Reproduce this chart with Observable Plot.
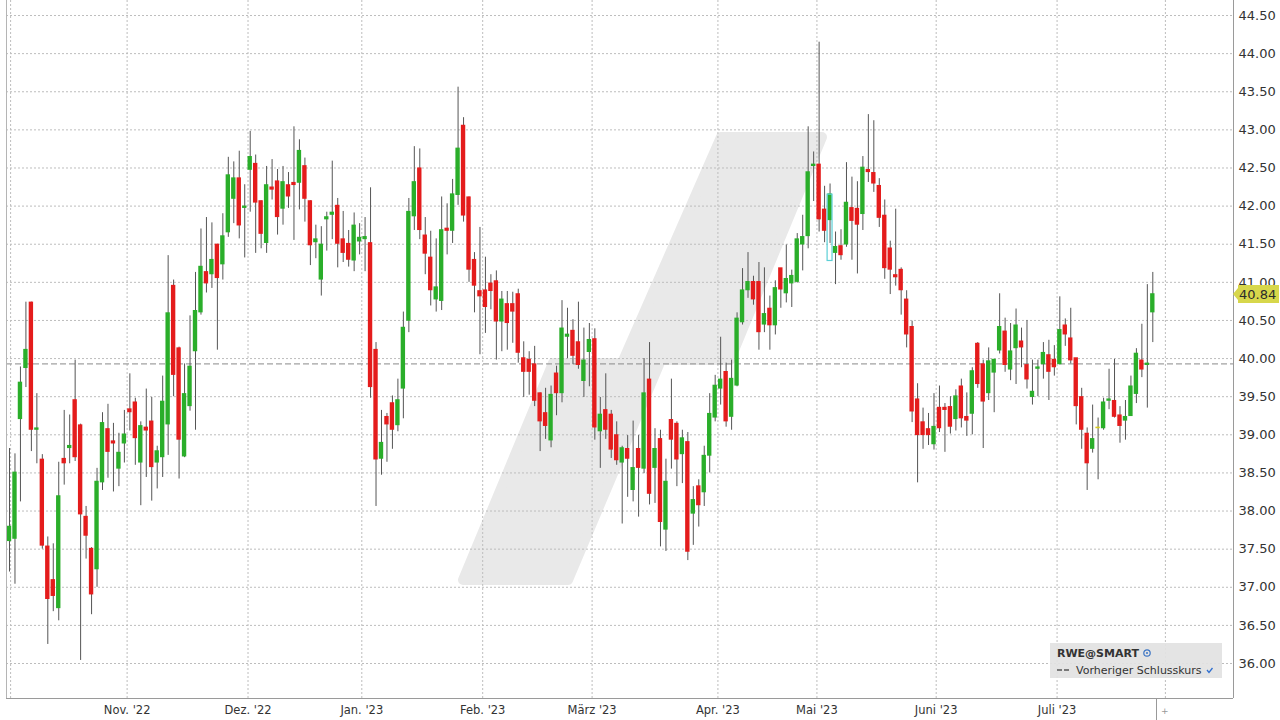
<!DOCTYPE html>
<html>
<head>
<meta charset="utf-8">
<script src="https://cdn.jsdelivr.net/npm/d3@7"></script>
<script src="https://cdn.jsdelivr.net/npm/@observablehq/plot@0.6"></script>
<style>
  html, body { margin: 0; padding: 0; background: #ffffff; }
  #chart { width: 1280px; height: 720px; overflow: hidden; }
</style>
</head>
<body>
<div id="chart"></div>
<script>
// ---- Data (daily candles, RWE, Oct 2022 – Jul 2023) ----
const opens = [
  37.61,37.64,39.21,39.88,40.73,39.07,38.67,37.53,37.09,36.73,
  38.68,38.83,39.45,39.12,37.92,37.50,37.24,38.38,39.07,38.91,
  38.56,38.89,39.33,39.42,38.64,39.09,39.17,38.64,38.71,39.14,
  40.95,40.13,38.72,39.38,40.10,40.61,41.13,41.11,41.49,41.24,
  41.66,42.10,42.36,41.98,42.48,42.55,42.06,41.52,42.24,42.32,
  41.97,42.27,42.30,42.31,42.52,42.06,41.53,41.04,41.83,41.89,
  42.00,41.56,41.50,41.29,41.54,41.57,41.51,40.11,38.69,39.23,
  39.41,39.13,39.61,40.50,41.87,42.49,41.61,41.32,40.78,40.76,
  41.70,41.68,42.15,43.05,42.11,41.29,40.88,40.89,40.98,41.01,
  40.49,40.71,40.71,40.84,40.00,39.98,39.92,39.54,39.28,38.93,
  39.80,39.55,40.29,40.36,40.21,39.71,40.09,40.25,39.05,39.32,
  39.26,38.99,38.64,38.81,38.28,38.81,38.56,39.72,38.57,38.94,
  37.76,39.19,39.14,38.75,38.90,37.97,38.32,38.25,38.73,39.23,
  39.61,39.82,39.24,39.65,40.48,40.90,41.00,41.00,40.45,40.65,
  40.44,41.18,40.86,40.99,41.01,41.50,41.61,42.53,42.54,41.95,
  41.82,41.39,41.47,41.50,41.97,41.96,41.90,42.47,42.43,42.26,
  41.87,41.44,41.09,41.16,40.77,40.41,39.46,39.16,39.07,38.88,
  39.35,39.35,39.36,39.21,39.63,39.23,39.28,40.19,39.92,39.55,
  39.82,40.11,40.35,39.86,40.14,40.22,39.91,39.50,39.87,39.93,
  40.04,39.98,39.93,40.43,40.26,40.00,39.49,39.01,38.82,39.09,
  39.09,39.45,39.44,39.25,39.19,39.25,39.54,39.97,39.92,40.61
];
const highs = [
  38.82,38.75,39.89,40.74,40.74,39.54,38.74,37.66,37.57,38.64,
  39.32,39.26,39.98,39.14,38.06,37.52,38.56,39.29,39.40,39.15,
  39.02,39.32,39.80,39.48,39.17,39.60,39.49,38.85,39.77,41.35,
  41.03,40.15,39.93,40.56,41.13,41.70,41.85,41.78,41.50,41.90,
  42.64,42.58,42.72,42.28,42.98,42.67,42.07,42.52,42.61,42.48,
  42.52,42.44,43.04,42.87,42.63,42.07,41.75,41.73,41.92,42.59,
  42.10,41.93,41.68,41.91,41.77,41.85,42.24,40.21,39.32,39.28,
  39.51,39.73,40.61,42.10,42.78,42.75,41.85,41.67,41.57,42.12,
  42.03,42.35,43.56,43.16,42.12,41.39,41.72,41.33,41.10,41.15,
  40.88,40.88,40.87,40.91,40.22,40.09,40.16,39.55,39.61,39.64,
  39.90,40.76,40.66,40.51,40.74,40.40,40.46,40.39,39.49,39.80,
  39.32,39.17,38.85,38.99,39.18,38.99,40.00,40.21,39.08,39.06,
  38.68,39.73,39.17,39.06,39.03,38.32,38.41,38.85,39.54,39.78,
  40.28,39.94,39.98,40.60,41.18,41.39,41.08,41.26,41.19,40.82,
  41.02,41.18,41.49,41.16,41.64,41.88,43.04,42.71,44.15,42.26,
  42.29,41.66,41.69,42.57,42.38,42.32,42.65,43.20,43.12,42.36,
  42.08,41.54,41.96,41.19,40.89,40.49,39.67,39.35,39.28,39.54,
  39.64,39.41,39.50,39.59,39.73,39.55,39.88,40.21,39.98,40.14,
  39.99,40.85,40.53,40.46,40.65,40.40,40.50,39.98,39.98,40.21,
  40.24,40.17,40.81,40.52,40.66,40.00,39.61,39.09,39.39,39.22,
  39.48,39.86,39.99,39.37,39.45,39.77,40.13,40.45,40.97,41.13
];
const lows = [
  37.20,37.04,38.12,39.62,38.78,38.62,37.50,36.25,36.68,36.56,
  38.34,38.62,38.65,36.04,37.37,36.64,37.00,38.27,38.43,38.25,
  38.32,38.63,39.05,38.60,38.07,38.44,38.13,38.29,38.44,38.73,
  39.50,38.42,38.70,39.31,39.06,40.57,40.86,40.92,40.11,41.03,
  41.59,41.77,41.57,41.32,41.92,41.38,41.44,41.38,42.08,41.62,
  41.75,41.97,41.55,41.95,41.79,41.22,41.31,40.82,41.41,41.56,
  41.19,41.26,41.20,41.14,41.36,41.14,39.48,38.06,38.47,38.64,
  38.81,39.04,39.21,40.34,41.68,41.56,41.10,40.69,40.61,40.63,
  41.36,41.51,42.01,41.79,41.00,40.60,40.05,40.33,40.64,39.98,
  40.09,40.11,40.20,39.94,39.49,39.52,39.37,38.78,38.94,38.83,
  39.25,39.42,40.00,39.92,39.86,39.49,39.63,38.93,38.56,38.94,
  38.69,38.60,37.83,38.18,38.12,37.92,38.49,38.08,38.10,37.53,
  37.47,38.55,38.32,38.36,37.35,37.55,37.79,38.06,38.50,39.17,
  39.39,39.10,39.06,39.63,40.44,40.79,40.70,40.11,40.34,40.11,
  40.31,40.66,40.73,40.67,40.99,41.15,41.44,42.06,41.66,41.52,
  41.51,40.97,41.29,41.46,41.29,41.11,41.68,42.31,42.18,41.72,
  41.04,40.84,40.95,40.57,40.14,39.16,38.37,38.81,38.86,38.80,
  39.03,38.77,39.01,39.05,39.09,38.98,39.00,39.61,38.82,39.45,
  39.29,40.06,39.82,39.71,39.66,39.88,39.60,39.39,39.50,39.73,
  39.45,39.77,39.92,40.16,39.93,39.13,38.81,38.27,38.76,38.41,
  39.06,39.33,39.22,38.89,38.93,39.24,39.41,39.75,39.35,40.21
];
const closes = [
  37.79,38.50,39.68,40.11,39.07,39.08,37.55,36.85,36.89,38.19,
  38.63,38.85,38.71,37.96,37.68,36.91,38.38,39.15,38.78,38.89,
  38.76,39.00,39.30,38.96,39.11,39.06,38.58,38.78,39.43,40.59,
  39.79,38.94,39.53,39.89,40.62,41.20,40.99,41.29,41.06,41.60,
  42.40,42.36,41.75,41.99,42.64,42.05,41.64,42.27,42.22,41.86,
  42.31,42.13,42.28,42.72,42.10,41.49,41.56,41.49,41.85,41.91,
  41.51,41.39,41.30,41.74,41.58,41.59,39.63,38.68,38.89,39.14,
  39.07,39.45,40.40,41.92,42.31,41.69,41.38,40.90,40.93,41.68,
  41.68,42.15,42.75,41.88,41.17,40.96,40.82,40.68,40.89,40.49,
  40.77,40.47,40.62,40.08,39.83,39.83,39.45,39.18,39.12,39.52,
  39.55,40.39,40.31,40.04,39.92,39.97,40.24,39.10,39.26,39.07,
  38.81,38.67,38.82,38.69,38.56,38.57,39.54,38.23,38.81,37.86,
  38.38,38.94,38.68,38.95,37.47,38.14,38.08,38.72,39.27,39.64,
  39.72,39.18,39.73,40.52,40.89,41.00,40.78,40.35,40.58,40.44,
  40.92,40.91,41.04,41.08,41.56,41.59,42.44,42.54,41.83,41.68,
  42.15,41.46,41.36,42.04,41.81,41.76,42.50,42.45,42.30,41.85,
  41.19,41.17,41.07,40.90,40.32,39.31,39.00,39.00,39.00,39.10,
  39.09,39.33,39.11,39.50,39.22,39.19,39.83,39.67,39.44,39.96,
  39.98,40.41,39.92,40.09,40.43,40.15,39.73,39.56,39.88,40.07,
  39.83,39.89,40.37,40.32,39.98,39.38,39.07,38.63,38.94,39.09,
  39.42,39.46,39.24,39.12,39.23,39.63,40.06,39.86,39.93,40.84
];
const prevClose = 39.93;          // "Vorheriger Schlusskurs"
const lastPrice = 40.84;          // current price tag
const highlightCandle = [150];    // cyan outlined candle
const highlightRange = [41.28, 42.15];

// month grid positions (in candle index units) and their labels
const monthTickPos    = [0.2, 21.5, 43.6, 64.4, 86.5, 106.5, 129.5, 147.6, 169.4, 191.5, 211.3];
const monthTickLabels = ["", "Nov. '22", "Dez. '22", "Jan. '23", "Feb. '23", "März '23", "Apr. '23", "Mai '23", "Juni '23", "Juli '23", ""];
const yTickValues = [36, 36.5, 37, 37.5, 38, 38.5, 39, 39.5, 40, 40.5, 41, 41.5, 42, 42.5, 43, 43.5, 44, 44.5];

const legendTitle = "RWE@SMART";
const legendLine = "Vorheriger Schlusskurs";

// ---- Build ----
const candles = opens.map((o, i) => ({i, o, h: highs[i], l: lows[i], c: closes[i]}));
const hl = highlightCandle.map(i => ({i, lo: highlightRange[0], hi: highlightRange[1]}));
const GREEN = "#2aae2a", RED = "#e41c1c", FLAT = "#d9cc1a";
const colorOf = d => d.c > d.o ? GREEN : d.c < d.o ? RED : FLAT;

const xDomain = [-0.55, 223.75];
const yDomain = [35.541, 44.697];
const labelByPos = new Map(monthTickPos.map((p, k) => [p, monthTickLabels[k]]));
const labeledPos = monthTickPos.filter((p, k) => monthTickLabels[k] !== "");

const chart = Plot.plot({
  width: 1280,
  height: 720,
  marginLeft: 6,
  marginRight: 47,
  marginTop: 0,
  marginBottom: 22,
  style: {fontFamily: "'DejaVu Sans', Verdana, sans-serif", fontSize: "13px", color: "#333", background: "#fff", overflow: "visible"},
  x: {type: "linear", domain: xDomain},
  y: {domain: yDomain},
  color: {type: "identity"},
  marks: [
    Plot.gridY({ticks: yTickValues, stroke: "#bdbdbd", strokeOpacity: 1, strokeDasharray: "2,2"}),
    Plot.gridX({ticks: monthTickPos, stroke: "#bdbdbd", strokeOpacity: 1, strokeDasharray: "2,2"}),
    Plot.ruleY([prevClose], {stroke: "#8a8a8a", strokeDasharray: "6,3", strokeWidth: 1}),
    Plot.ruleX(candles, {x: "i", y1: "l", y2: "h", stroke: "#555", strokeWidth: 1}),
    Plot.rect(candles, {
      x1: d => d.i - 0.4, x2: d => d.i + 0.4,
      y1: d => Math.min(d.o, d.c), y2: d => Math.max(d.o, d.c),
      fill: colorOf, insetTop: -0.8, insetBottom: -0.8
    }),
    Plot.rect(hl, {x1: d => d.i - 0.45, x2: d => d.i + 0.45, y1: "lo", y2: "hi", fill: "none", stroke: "#5ccfd6", strokeWidth: 1.2}),
    Plot.ruleX([xDomain[0]], {stroke: "#b5b5b5"}),
    Plot.ruleX([xDomain[1]], {stroke: "#9a9a9a"}),
    Plot.ruleY([yDomain[0]], {stroke: "#9a9a9a"}),
    Plot.axisY({anchor: "right", ticks: yTickValues, tickFormat: d => d.toFixed(2), tickSize: 0, tickPadding: 5, fontSize: 13, label: null}),
    Plot.axisX({anchor: "bottom", ticks: labeledPos, tickFormat: d => labelByPos.get(d), tickSize: 0, tickPadding: 7, fontSize: 11.5, label: null})
  ]
});

document.getElementById("chart").appendChild(chart);

// ---- Decorations (watermark, price tag, legend) ----
const svg = d3.select(chart);
const ys = chart.scale("y");
const xs = chart.scale("x");

// watermark logo (slanted band) behind everything
const wm = [[721,137],[822,137],[730,360],[661,360],[568,580],[463,580],[553,363],[622,363]];
svg.insert("path", ":first-child")
  .attr("d", "M" + wm.map(p => p.join(",")).join("L") + "Z")
  .attr("fill", "#e9e9e9").attr("stroke", "#e9e9e9")
  .attr("stroke-width", 10).attr("stroke-linejoin", "round");
svg.insert("rect", ":first-child").attr("width", 1280).attr("height", 720).attr("fill", "#fff");

// current price tag
const yp = ys.apply(lastPrice);
const xr = xs.apply(xDomain[1]);
const tag = svg.append("g").attr("text-anchor", "start");
tag.append("path")
  .attr("d", `M${xr},${yp} L${xr + 5},${yp - 6} L${xr + 5},${yp - 9} L1279,${yp - 9} L1279,${yp + 9} L${xr + 5},${yp + 9} L${xr + 5},${yp + 6} Z`)
  .attr("fill", "#d7d74b");
tag.append("text").attr("x", xr + 6).attr("y", yp).attr("dy", "0.35em")
  .attr("font-size", 13).attr("fill", "#2b2b2b").text(lastPrice.toFixed(2));

// legend box
const lg = svg.append("g").attr("transform", "translate(1050,643)").attr("text-anchor", "start");
lg.append("rect").attr("width", 172).attr("height", 35).attr("fill", "#e2e2e2").attr("fill-opacity", 0.92);
lg.append("text").attr("x", 7).attr("y", 14).attr("font-size", 11).attr("font-weight", "bold").attr("fill", "#333").text(legendTitle);
lg.append("circle").attr("cx", 97).attr("cy", 10).attr("r", 3.2).attr("fill", "none").attr("stroke", "#3b74c4").attr("stroke-width", 1.2);
lg.append("circle").attr("cx", 97).attr("cy", 10).attr("r", 1).attr("fill", "#3b74c4");
lg.append("line").attr("x1", 7).attr("x2", 21).attr("y1", 27).attr("y2", 27)
  .attr("stroke", "#555").attr("stroke-width", 1.3).attr("stroke-dasharray", "5,2");
lg.append("text").attr("x", 26).attr("y", 31).attr("font-size", 11).attr("fill", "#333").text(legendLine);
lg.append("path").attr("d", "M157,27 L159,29.5 L162.5,25").attr("fill", "none").attr("stroke", "#2f6fd0").attr("stroke-width", 1.3);

// small scroll separator at the bottom
svg.append("line").attr("x1", 1156.5).attr("x2", 1156.5).attr("y1", 699).attr("y2", 720).attr("stroke", "#999");
svg.append("text").attr("x", 1161).attr("y", 714).attr("font-size", 9).attr("fill", "#999").attr("text-anchor", "start").text("+");
</script>
</body>
</html>
